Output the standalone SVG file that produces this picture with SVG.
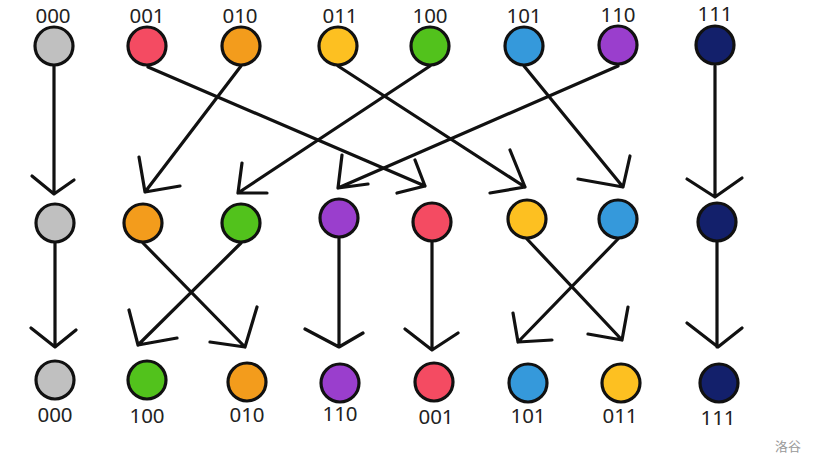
<svg xmlns="http://www.w3.org/2000/svg" width="816" height="466" viewBox="0 0 816 466">
<style>
.n{stroke:#111;stroke-width:3.2}
.t{font-family:"Noto Sans","Open Sans",sans-serif;font-size:20.5px;fill:#222;text-anchor:middle}
.c path{fill:none;stroke:#111;stroke-width:3.2;stroke-linecap:round;stroke-linejoin:round}
.w{font-family:"Noto Sans CJK SC",sans-serif;font-size:13px;fill:#999}
</style>
<rect width="816" height="466" fill="#fff"/>
<g id="connectors" class="c">
<path d="M54 66V194M32 176L54 194L74 180"/>
<path d="M148 67L425 186M415 160L425 186L397 193"/>
<path d="M241 66L145 192M139 157L145 192L180 186"/>
<path d="M338 66L525 187M510 150L525 187L490 193"/>
<path d="M430 66L238 193M242 163L238 193L267 193"/>
<path d="M524 66L623 187M630 156L623 187L578 179"/>
<path d="M618 66L338 188M342 155L338 188L368 184"/>
<path d="M715 66V197M687 179L715 197L742 178"/>
<path d="M55 243V347M31 328L55 347L76 330"/>
<path d="M143 243L245 347M257 307L245 347L210 342"/>
<path d="M241 243L138 345M129 310L138 345L177 338"/>
<path d="M339 238V347M305 329L339 347L363 333"/>
<path d="M432 242V350M405 329L432 350L458 333"/>
<path d="M527 239L622 340M628 307L622 340L588 334"/>
<path d="M618 239L518 342M513 313L518 342L552 340"/>
<path d="M717 242V347M687 323L718 347L742 328"/>
</g>
<g id="top-000"><circle class="n" cx="54" cy="46" r="19" fill="#c0c0c0"/><text class="t" x="53" y="23">000</text></g>
<g id="top-001"><circle class="n" cx="147" cy="46" r="19" fill="#f44b62"/><text class="t" x="147" y="23">001</text></g>
<g id="top-010"><circle class="n" cx="241" cy="46" r="19" fill="#f39c1c"/><text class="t" x="240" y="23">010</text></g>
<g id="top-011"><circle class="n" cx="338" cy="46" r="19" fill="#fdc021"/><text class="t" x="340" y="23">011</text></g>
<g id="top-100"><circle class="n" cx="430" cy="46" r="19" fill="#52c21c"/><text class="t" x="430" y="23">100</text></g>
<g id="top-101"><circle class="n" cx="524" cy="46" r="19" fill="#3599db"/><text class="t" x="524" y="23">101</text></g>
<g id="top-110"><circle class="n" cx="618" cy="45" r="19" fill="#9a3ecd"/><text class="t" x="618" y="22">110</text></g>
<g id="top-111"><circle class="n" cx="715" cy="45" r="19" fill="#13206b"/><text class="t" x="715" y="21">111</text></g>
<g id="mid-0"><circle class="n" cx="55" cy="223" r="19" fill="#c0c0c0"/></g>
<g id="mid-1"><circle class="n" cx="143" cy="223" r="19" fill="#f39c1c"/></g>
<g id="mid-2"><circle class="n" cx="241" cy="223" r="19" fill="#52c21c"/></g>
<g id="mid-3"><circle class="n" cx="339" cy="218" r="19" fill="#9a3ecd"/></g>
<g id="mid-4"><circle class="n" cx="432" cy="222" r="19" fill="#f44b62"/></g>
<g id="mid-5"><circle class="n" cx="527" cy="219" r="19" fill="#fdc021"/></g>
<g id="mid-6"><circle class="n" cx="618" cy="219" r="19" fill="#3599db"/></g>
<g id="mid-7"><circle class="n" cx="717" cy="222" r="19" fill="#13206b"/></g>
<g id="bot-000"><circle class="n" cx="55" cy="380" r="19" fill="#c0c0c0"/><text class="t" x="55" y="422">000</text></g>
<g id="bot-100"><circle class="n" cx="147" cy="380" r="19" fill="#52c21c"/><text class="t" x="147" y="423">100</text></g>
<g id="bot-010"><circle class="n" cx="247" cy="382" r="19" fill="#f39c1c"/><text class="t" x="247" y="422">010</text></g>
<g id="bot-110"><circle class="n" cx="340" cy="383" r="19" fill="#9a3ecd"/><text class="t" x="340" y="421">110</text></g>
<g id="bot-001"><circle class="n" cx="434" cy="382" r="19" fill="#f44b62"/><text class="t" x="436" y="424">001</text></g>
<g id="bot-101"><circle class="n" cx="528" cy="383" r="19" fill="#3599db"/><text class="t" x="528" y="423">101</text></g>
<g id="bot-011"><circle class="n" cx="621" cy="383" r="19" fill="#fdc021"/><text class="t" x="620" y="423">011</text></g>
<g id="bot-111"><circle class="n" cx="719" cy="383" r="19" fill="#13206b"/><text class="t" x="718" y="425">111</text></g>
<text class="w" x="775" y="451">洛谷</text>
</svg>
